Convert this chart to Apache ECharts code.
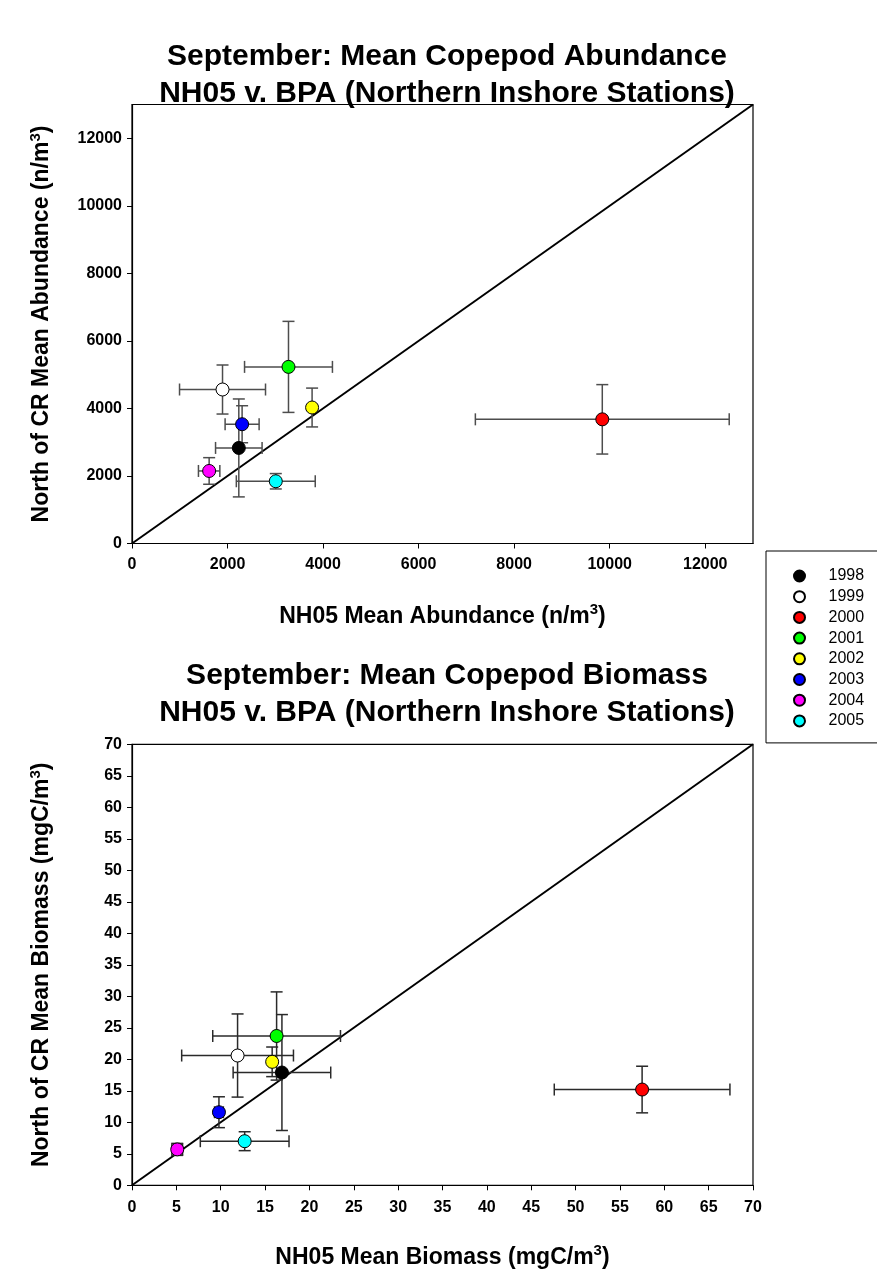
<!DOCTYPE html>
<html>
<head>
<meta charset="utf-8">
<script src="https://cdn.jsdelivr.net/npm/echarts@6/dist/echarts.min.js"></script>
<style>
html,body{margin:0;padding:0;background:#fff;}
#chart{width:877px;height:1272px;}
</style>
</head>
<body>
<div id="chart"></div>
<script>
// ---- data ----
const years = ['1998','1999','2000','2001','2002','2003','2004','2005'];
const yearColors = ['#000000','#ffffff','#ff0000','#00ff00','#ffff00','#0000ff','#ff00ff','#00ffff'];

// Abundance (n/m3)
const abundNH05    = [2236, 1895, 9845, 3276, 3770, 2305, 1615, 3010];
const abundNH05Err = [ 487,  900, 2657,  920,    0,  356,  224,  826];
const abundNCR     = [2830, 4560, 3677, 5230, 4027, 3532, 2148, 1843];
const abundNCRErr  = [1450,  726, 1028, 1348,  575,  548,  394,  228];

// Biomass (mgC/m3)
const bioNH05    = [16.9, 11.9, 57.5, 16.3, 15.8,  9.8, 5.1, 12.7];
const bioNH05Err = [ 5.5,  6.3,  9.9,  7.2,  0.0,  0.5, 0.6,  5.0];
const bioNCR     = [17.9, 20.6, 15.2, 23.7, 19.6, 11.6, 5.7,  7.0];
const bioNCRErr  = [ 9.2,  6.6,  3.7,  7.0,  2.35, 2.45, 0.95, 1.5];

const abundMax = 13000, abundStep = 2000;
const bioMax = 70, bioStep = 5;

// ---- chart ----
const FONT = 'Liberation Sans';
const chart = echarts.init(document.getElementById('chart'));

function errRender(color){
  return function(params, api){
    const x = api.value(0), y = api.value(1), ex = api.value(2), ey = api.value(3);
    const c = api.coord([x, y]);
    const cap = 6;
    const st = {stroke: color, lineWidth: 1.5};
    const ch = [];
    if (ex > 0){
      const l = api.coord([x-ex, y]), r = api.coord([x+ex, y]);
      ch.push({type:'line', shape:{x1:l[0],y1:c[1],x2:r[0],y2:c[1]}, style:st});
      ch.push({type:'line', shape:{x1:l[0],y1:c[1]-cap,x2:l[0],y2:c[1]+cap}, style:st});
      ch.push({type:'line', shape:{x1:r[0],y1:c[1]-cap,x2:r[0],y2:c[1]+cap}, style:st});
    }
    if (ey > 0){
      const t = api.coord([x, y+ey]), b = api.coord([x, y-ey]);
      ch.push({type:'line', shape:{x1:c[0],y1:t[1],x2:c[0],y2:b[1]}, style:st});
      ch.push({type:'line', shape:{x1:c[0]-cap,y1:t[1],x2:c[0]+cap,y2:t[1]}, style:st});
      ch.push({type:'line', shape:{x1:c[0]-cap,y1:b[1],x2:c[0]+cap,y2:b[1]}, style:st});
    }
    return {type:'group', children: ch};
  };
}

const axisLabelStyle = {fontFamily: FONT, fontWeight:'bold', fontSize: 16, color:'#000'};
const nameStyle = {
  fontFamily: FONT, fontWeight:'bold', fontSize: 23, color:'#000',
  rich: {
    t: {fontFamily: FONT, fontWeight:'bold', fontSize: 23, color:'#000', lineHeight: 28},
    sup: {fontFamily: FONT, fontWeight:'bold', fontSize: 15, color:'#000', verticalAlign:'top', lineHeight: 14}
  }
};

function makeAxis(gi, max, step, name, gap, margin){
  return {
    type:'value', gridIndex: gi, min: 0, max: max, interval: step,
    name: name, nameLocation:'middle', nameGap: gap, nameTextStyle: nameStyle,
    axisLine:{show:true, onZero:false, lineStyle:{color:'#000', width:1.2}},
    axisTick:{show:true, inside:false, length:5, lineStyle:{color:'#000'}},
    axisLabel:{...axisLabelStyle, margin: margin, showMaxLabel: (max % step === 0),
      formatter: v => (v % step === 0 ? String(v) : '')},
    splitLine:{show:false}
  };
}

const series = [];
// diagonal reference lines
series.push({type:'line', xAxisIndex:0, yAxisIndex:0, data:[[0,0],[abundMax,abundMax]],
  symbol:'none', lineStyle:{color:'#000', width:2}, z:2, silent:true});
series.push({type:'line', xAxisIndex:1, yAxisIndex:1, data:[[0,0],[bioMax,bioMax]],
  symbol:'none', lineStyle:{color:'#000', width:2}, z:2, silent:true});
// error bars
series.push({type:'custom', xAxisIndex:0, yAxisIndex:0, renderItem: errRender('#4d4d4d'), z:3,
  data: years.map((y,i)=>[abundNH05[i], abundNCR[i], abundNH05Err[i], abundNCRErr[i]]),
  encode:{x:0, y:1}, silent:true});
series.push({type:'custom', xAxisIndex:1, yAxisIndex:1, renderItem: errRender('#2a2a2a'), z:3,
  data: years.map((y,i)=>[bioNH05[i], bioNCR[i], bioNH05Err[i], bioNCRErr[i]]),
  encode:{x:0, y:1}, silent:true});
// points
years.forEach((yr,i)=>{
  const st = {color: yearColors[i], borderColor:'#000', borderWidth:1, opacity:1};
  series.push({type:'scatter', name: yr, xAxisIndex:0, yAxisIndex:0, symbol:'circle', symbolSize:13,
    itemStyle: st, z:5, data:[[abundNH05[i], abundNCR[i]]]});
  series.push({type:'scatter', name: yr, xAxisIndex:1, yAxisIndex:1, symbol:'circle', symbolSize:13,
    itemStyle: st, z:5, data:[[bioNH05[i], bioNCR[i]]]});
});

const titleStyle = {fontFamily: FONT, fontWeight:'bold', fontSize: 30, color:'#000', lineHeight: 37};

chart.setOption({
  animation:false,
  backgroundColor:'#fff',
  title:[
    {text:'September: Mean Copepod Abundance\nNH05 v. BPA (Northern Inshore Stations)', left:442, top:33, textAlign:'center', textStyle: titleStyle},
    {text:'September: Mean Copepod Biomass\nNH05 v. BPA (Northern Inshore Stations)', left:442, top:652, textAlign:'center', textStyle: titleStyle}
  ],
  legend:{
    data: years, left: 766, top: 551, orient:'vertical', icon:'circle',
    itemWidth: 48, itemHeight: 11, itemGap: 4.7, padding:[17, 60, 14, 27],
    borderColor:'#000', borderWidth:1, selectedMode:false,
    textStyle:{fontFamily: FONT, fontSize: 16, lineHeight: 16, color:'#000'}
  },
  grid:[
    {left:132, top:104.5, width:621, height:439, show:true, borderColor:'#000', borderWidth:1.2, backgroundColor:'transparent'},
    {left:132, top:744.3, width:621, height:441, show:true, borderColor:'#000', borderWidth:1.2, backgroundColor:'transparent'}
  ],
  xAxis:[
    makeAxis(0, abundMax, abundStep, '{t|NH05 Mean Abundance (n/m}{sup|3}{t|)}', 59, 13),
    makeAxis(1, bioMax, bioStep, '{t|NH05 Mean Biomass (mgC/m}{sup|3}{t|)}', 58, 14)
  ],
  yAxis:[
    makeAxis(0, abundMax, abundStep, '{t|North of CR Mean Abundance (n/m}{sup|3}{t|)}', 76, 10),
    makeAxis(1, bioMax, bioStep, '{t|North of CR Mean Biomass (mgC/m}{sup|3}{t|)}', 76, 10)
  ],
  series: series
});
</script>
</body>
</html>
